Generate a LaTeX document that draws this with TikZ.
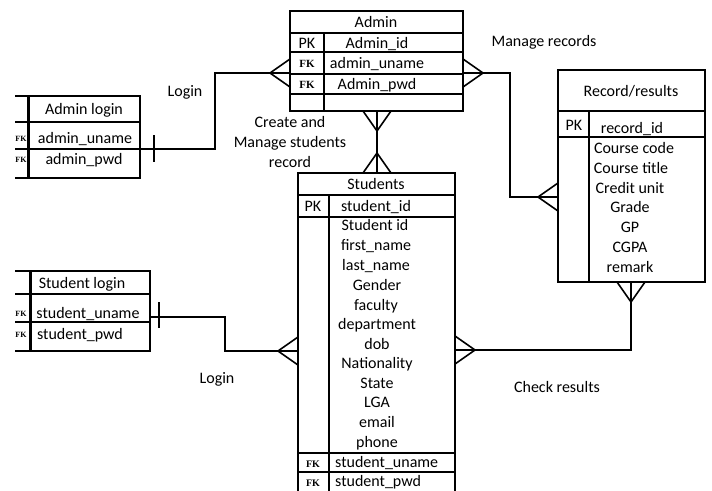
\documentclass[tikz,border=0pt]{standalone}
\usepackage{fontspec}
\setmainfont{Carlito}
\newfontfamily\fkfont{Liberation Serif}
\usetikzlibrary{calc}
\begin{document}
\begin{tikzpicture}[x=1pt,y=-1pt,line join=miter,
  ln/.style={line width=1.6pt},
  tk/.style={line width=2.8pt},
  tbox/.style={draw,line width=1.6pt,anchor=north west,inner sep=0pt,outer sep=0pt},
  txt/.style={font=\fontsize{16}{20}\selectfont,inner sep=0pt,text height=10pt,text depth=0pt},
  lbl/.style={font=\fontsize{16}{20}\selectfont,inner sep=0pt,align=center},
  fk/.style={font=\fkfont\bfseries\fontsize{11}{12}\selectfont,inner sep=0pt,text height=8pt,text depth=0pt},
  fks/.style={font=\fkfont\bfseries\fontsize{8}{9}\selectfont,inner sep=0pt,text height=6pt,text depth=0pt},
  crow/.pic={\draw[line width=1.6pt] (0,-14) -- (-20,0) -- (0,14); \draw[line width=1.6pt] (-20,0) -- (0,0);}
]
\useasboundingbox (0,0) rectangle (712,490);
\clip (0,0) rectangle (712,490);

% ---------------- Admin ----------------
\node[tbox,minimum width=173pt,minimum height=100pt] (admin) at (290,11) {};
\draw[ln] (290,33) -- (463,33);
\draw[ln] (290,52) -- (463,52);
\draw[tk] (290,74) -- (463,74);
\draw[tk] (290,94) -- (463,94);
\draw[ln] (324,33) -- (324,111);
\node[txt] (adminT) at (376,22) {Admin};
\node[txt] (adminPK) at (307,43) {PK};
\node[txt] (adminId) at (377,43) {Admin\_id};
\node[fk] (adminFK1) at (307,63) {FK};
\node[txt] (adminUn) at (377,63) {admin\_uname};
\node[fk] (adminFK2) at (307,84) {FK};
\node[txt] (adminPw) at (377,84) {Admin\_pwd};

% ---------------- Students ----------------
\node[tbox,minimum width=157pt,minimum height=340pt] (stud) at (298,173) {};
\draw[ln] (298,195) -- (455,195);
\draw[ln] (298,217) -- (455,217);
\draw[tk] (298,453) -- (455,453);
\draw[tk] (298,472) -- (455,472);
\draw[ln] (329,195) -- (329,513);
\node[txt] (studT) at (376,184) {Students};
\node[txt] (studPK) at (313,206) {PK};
\node[txt] (studId) at (376,206) {student\_id};
\node[txt] (s1) at (375,225) {Student id};
\node[txt] (s2) at (376,245) {first\_name};
\node[txt] (s3) at (376,265) {last\_name};
\node[txt] (s4) at (377,285) {Gender};
\node[txt] (s5) at (376,305) {faculty};
\node[txt] (s6) at (377,324) {department};
\node[txt] (s7) at (377,344) {dob};
\node[txt] (s8) at (377,363) {Nationality};
\node[txt] (s9) at (377,383) {State};
\node[txt] (s10) at (377,402) {LGA};
\node[txt] (s11) at (377,422) {email};
\node[txt] (s12) at (377,442) {phone};
\node[fk,font=\fkfont\bfseries\fontsize{10}{11}\selectfont] (studFK1) at (313,463) {FK};
\node[txt,anchor=west] (studUn) at (335,462) {student\_uname};
\node[fk,font=\fkfont\bfseries\fontsize{10}{11}\selectfont] (studFK2) at (313,482) {FK};
\node[txt,anchor=west] (studPw) at (335,481) {student\_pwd};

% ---------------- Record/results ----------------
\node[tbox,minimum width=147pt,minimum height=212pt] (rec) at (558,70) {};
\draw[ln] (558,111) -- (705,111);
\draw[ln] (558,137) -- (705,137);
\draw[ln] (589,111) -- (589,282);
\node[txt] (recT) at (631,91) {Record/results};
\node[txt] (recPK) at (574,125) {PK};
\node[txt] (recId) at (632,128) {record\_id};
\node[txt] (r1) at (634,148) {Course code};
\node[txt] (r2) at (631,168) {Course title};
\node[txt] (r3) at (630,188) {Credit unit};
\node[txt] (r4) at (630,207) {Grade};
\node[txt] (r5) at (630,227) {GP};
\node[txt] (r6) at (630,247) {CGPA};
\node[txt] (r7) at (630,267) {remark};

% ---------------- Admin login ----------------
\node[tbox,minimum width=112pt,minimum height=82pt] (alogin) at (28,96) {};
\draw[ln] (15,96) -- (140,96);
\draw[ln] (15,122) -- (140,122);
\draw[tk] (15,149) -- (140,149);
\draw[ln] (15,178) -- (140,178);
\draw[line width=3.2pt] (28.5,95) -- (28.5,179);
\node[txt] (aloginT) at (84,109) {Admin login};
\node[fks] (aloginFK1) at (21,138) {FK};
\node[txt] (aloginUn) at (85,138) {admin\_uname};
\node[fks] (aloginFK2) at (21,159) {FK};
\node[txt] (aloginPw) at (84,159) {admin\_pwd};

% ---------------- Student login ----------------
\node[tbox,minimum width=120pt,minimum height=80pt] (slogin) at (30,271) {};
\draw[ln] (15,271) -- (150,271);
\draw[ln] (15,294) -- (150,294);
\draw[tk] (15,322) -- (150,322);
\draw[ln] (15,351) -- (150,351);
\draw[line width=3.2pt] (30.5,270) -- (30.5,352);
\node[txt] (sloginT) at (82,283) {Student login};
\node[fks] (sloginFK1) at (21,313) {FK};
\node[txt] (sloginUn) at (88,313) {student\_uname};
\node[fks] (sloginFK2) at (21,334) {FK};
\node[txt] (sloginPw) at (80,334) {student\_pwd};

% ---------------- connection points ----------------
\coordinate (aloginR) at (140,149);
\coordinate (adminL) at (290,73);
\coordinate (adminR) at (463,73);
\coordinate (adminB) at (377,111);
\coordinate (studTop) at (377,173);
\coordinate (sloginR) at (150,317);
\coordinate (studL) at (298,351);
\coordinate (studR) at (455,350);
\coordinate (recL) at (558,197);
\coordinate (recB) at (631,282);

% ---------------- connectors ----------------
\draw[ln] (aloginR) -- ++(75,0) |- (adminL);
\draw[ln] ($(aloginR)+(14,-14)$) -- ++(0,27);
\pic at (adminL) {crow};

\draw[ln] (adminR) -- ++(47,0) |- (recL);
\pic[rotate=180] at (adminR) {crow};
\pic at (recL) {crow};

\draw[ln] (adminB) -- (studTop);
\pic[rotate=90] at (adminB) {crow};
\pic[rotate=-90] at (studTop) {crow};

\draw[ln] (sloginR) -- ++(75,0) |- (studL);
\draw[ln] ($(sloginR)+(9,-15)$) -- ++(0,26);
\pic at (studL) {crow};

\draw[ln] (recB) |- (studR);
\pic[rotate=90] at (recB) {crow};
\pic[rotate=180] at (studR) {crow};

% ---------------- labels ----------------
\node[lbl] (loginA) at (185,92) {Login};
\node[lbl] (manage) at (544,42) {Manage records};
\node[lbl] (create) at (290,142) {Create and\\Manage students\\record};
\node[lbl] (loginS) at (217,379) {Login};
\node[lbl] (check) at (557,387) {Check results};
\end{tikzpicture}
\end{document}
